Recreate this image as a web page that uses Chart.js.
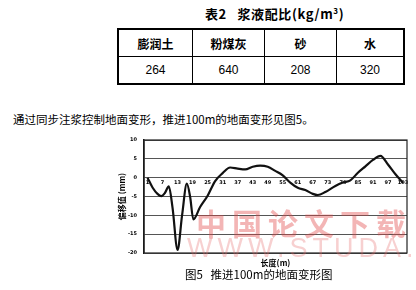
<!DOCTYPE html>
<html>
<head>
<meta charset="utf-8">
<script src="https://cdn.jsdelivr.net/npm/chart.js@4/dist/chart.umd.min.js"></script>
<style>
  body { margin: 0; width: 416px; height: 290px; overflow: hidden; background: #fff; position: relative; font-family: "Noto Sans CJK SC", sans-serif; }
  .abs { position: absolute; white-space: nowrap; }
  #tblTitle { left: 205px; top: 4px; font-size: 13px; font-weight: bold; letter-spacing: 0.6px; }
  #mix { position: absolute; left: 117px; top: 28px; width: 288px; height: 54px; border-collapse: collapse; border: 2px solid #000; }
  #mix td { border: 1px solid #000; text-align: center; padding: 0; height: 26px; }
  #mix .head td { font-weight: bold; font-size: 12px; }
  #mix .vals td { font-family: "Liberation Sans", sans-serif; font-size: 12px; }
  #para { left: 13px; top: 111px; font-size: 11.5px; }
  #caption { left: 185px; top: 266px; font-size: 11.5px; }
  #wrap { position: absolute; left: 100px; top: 130px; width: 316px; height: 140px; }
  #wm1 { left: 196px; top: 200px; font-size: 30px; font-weight: bold; letter-spacing: 6px; color: rgba(225, 70, 70, 0.4); }
  #wm2 { left: 187px; top: 233px; font-family: "Liberation Sans", sans-serif; font-size: 27px; letter-spacing: 5px; color: rgba(230, 110, 110, 0.32); }
</style>
</head>
<body>
<div id="tblTitle" class="abs">表2&nbsp;&nbsp;&nbsp;浆液配比(kg/m<sup style="font-size:8px">3</sup>)</div>
<table id="mix">
  <tr class="head"><td style="width:73px">膨润土</td><td style="width:71px">粉煤灰</td><td style="width:71px">砂</td><td>水</td></tr>
  <tr class="vals"><td>264</td><td>640</td><td>208</td><td>320</td></tr>
</table>
<div id="para" class="abs">通过同步注浆控制地面变形，推进100m的地面变形见图5。</div>
<div id="wrap"><canvas id="c" width="316" height="140"></canvas></div>
<div id="caption" class="abs">图5&nbsp;&nbsp;&nbsp;推进100m的地面变形图</div>
<div id="wm1" class="abs">中国论文下载</div>
<div id="wm2" class="abs">WWW.STUDA.NET</div>
<script>
// values
const distance = [1, 3, 5, 6.5, 8, 9.5, 11, 13, 14.8, 16.7, 18, 19.3, 22, 25, 28, 31, 34, 37, 40, 43,
  46, 49, 52, 55, 58, 61, 64, 67, 69, 72, 76, 79, 82, 85, 88, 91, 94, 97, 100, 103];
const offsetMm = [0, -2.6, -4.3, -4.9, -4.0, -2.3, -8, -19.2, -10, -1.6, -5, -11.1, -7.8, -4.8, -0.9, 1.2, 2.7, 2.4, 2.2, 2.9,
  3.2, 2.9, 1.8, 0.6, -1.3, -2.7, -3.3, -4.3, -4.6, -3.8, -2.2, -1.3, -0.7, 1.3, 3.0, 4.7, 5.8, 3.5, 0.9, -1.4];
const xTickLabels = [1, 7, 13, 19, 25, 31, 37, 43, 49, 55, 61, 67, 73, 79, 85, 91, 97, 103];

const tickFont = { family: 'DejaVu Sans', size: 5, weight: 'bold' };

// box around the plot area
const frame = {
  id: 'frame',
  beforeDatasetsDraw(chart) {
    const { ctx, chartArea: a } = chart;
    ctx.save();
    ctx.strokeStyle = '#222';
    ctx.lineWidth = 1.2;
    ctx.strokeRect(a.left, a.top, a.right - a.left, a.bottom - a.top);
    ctx.restore();
  }
};

new Chart(document.getElementById('c'), {
  type: 'line',
  data: {
    datasets: [{
      data: distance.map((d, i) => ({ x: d, y: offsetMm[i] })),
      borderColor: '#111',
      borderWidth: 2.2,
      pointRadius: 0,
      cubicInterpolationMode: 'monotone',
      fill: false
    }]
  },
  options: {
    responsive: false,
    animation: false,
    maintainAspectRatio: false,
    layout: { padding: { top: 9, right: 9, left: 0, bottom: 0 } },
    plugins: {
      legend: { display: false },
      tooltip: { enabled: false },
      title: {
        display: true,
        position: 'bottom',
        fullSize: false,
        text: '长度(m)',
        color: '#000',
        font: { family: 'Noto Sans CJK SC', size: 8, weight: 'bold' },
        padding: { top: 4.7, bottom: 2.7 }
      }
    },
    scales: {
      x: {
        type: 'linear',
        position: { y: 0 },
        min: -0.4,
        max: 104.6,
        grid: { display: false, drawTicks: false },
        border: { display: false },
        afterBuildTicks: s => { s.ticks = xTickLabels.map(v => ({ value: v })); },
        ticks: { font: tickFont, color: '#000', padding: 2, maxRotation: 0, autoSkip: false }
      },
      y: {
        min: -20,
        max: 10,
        afterFit: s => { s.width = 44; },
        grid: { color: '#555', lineWidth: 1, drawTicks: false },
        border: { color: '#111', width: 1.5 },
        ticks: { stepSize: 5, font: tickFont, color: '#000', padding: 7 },
        title: {
          display: true,
          text: '偏移值 (mm)',
          color: '#000',
          font: { family: 'Noto Sans CJK SC', size: 8, weight: 'bold' },
          padding: { top: 17, bottom: 0 }
        }
      }
    }
  },
  plugins: [frame]
});
</script>
</body>
</html>
